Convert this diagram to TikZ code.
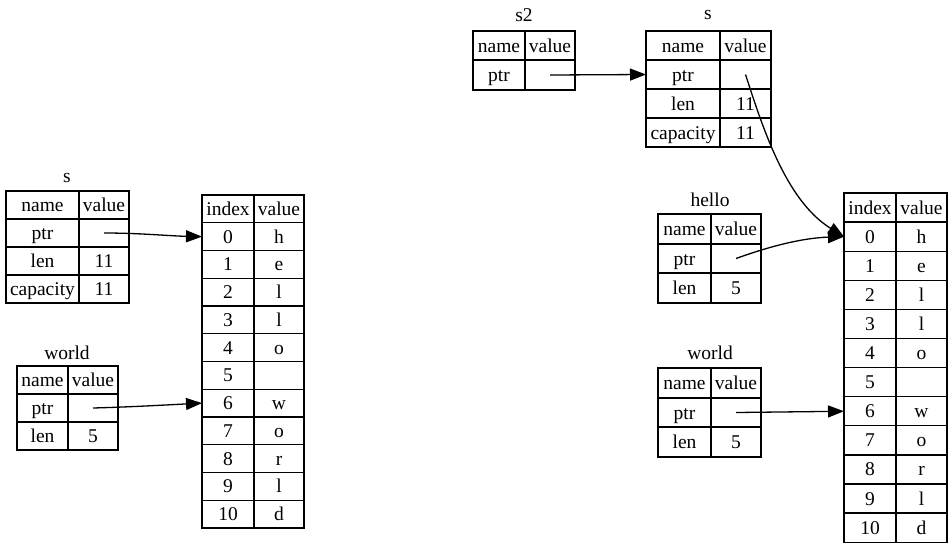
\documentclass[tikz,border=0pt]{standalone}
\usepackage{fontspec}
\setmainfont{Liberation Serif}
\usetikzlibrary{arrows.meta}
\tikzset{
  cell/.style={draw=black, line width=1.35pt, inner sep=0pt, outer sep=0pt, rectangle,
    text height=15pt, text depth=2pt},
  lbl/.style={inner sep=0pt},
  arr/.style={draw=black, line width=1.3pt, -{Triangle[length=16pt,width=12pt]}},
}
% \trow{prefix-row}{x1}{x2}{x3}{ytop}{ybot}{left}{right}
\newcommand\trow[8]{%
  \node[cell, minimum width={(#3-#2)*1pt}, minimum height={(#6-#5)*1pt}] (#1-n) at ({(#2+#3)/2},{(#5+#6)/2}) {#7};
  \node[cell, minimum width={(#4-#3)*1pt}, minimum height={(#6-#5)*1pt}] (#1-v) at ({(#3+#4)/2},{(#5+#6)/2}) {#8};
}
\begin{document}
\begin{tikzpicture}[x=1pt,y=-1pt,font=\fontsize{19.5pt}{22pt}\selectfont]
\useasboundingbox (0,0) rectangle (948,544);
\fill[white] (0,0) rectangle (948,544);

% ---------- left: s ----------
\node[lbl] (ls-label) at (67,178) {s};
\trow{ls-h}{6}{79}{129}{191}{219}{name}{value}
\trow{ls-ptr}{6}{79}{129}{219}{247}{ptr}{}
\trow{ls-len}{6}{79}{129}{247}{275}{len}{11}
\trow{ls-cap}{6}{79}{129}{275}{303}{capacity}{11}

% ---------- left: world ----------
\node[lbl] (lw-label) at (67,353) {world};
\trow{lw-h}{17}{68}{118}{366}{394}{name}{value}
\trow{lw-ptr}{17}{68}{118}{394}{422}{ptr}{}
\trow{lw-len}{17}{68}{118}{422}{450}{len}{5}

% ---------- left: array ----------
\trow{la-h}{202}{254}{304}{195}{222.75}{index}{value}
\foreach \i/\c in {0/h,1/e,2/l,3/l,4/o,5/{},6/w,7/o,8/r,9/l,10/d}{
  \pgfmathsetmacro\ya{195+27.75*(\i+1)}
  \pgfmathsetmacro\yb{195+27.75*(\i+2)}
  \trow{la-\i}{202}{254}{304}{\ya}{\yb}{\i}{\c}
}

% ---------- right: s2 ----------
\node[lbl] (rs2-label) at (524,15) {s2};
\trow{rs2-h}{473}{525}{575}{31}{60}{name}{value}
\trow{rs2-ptr}{473}{525}{575}{60}{90}{ptr}{}

% ---------- right: s ----------
\node[lbl] (rs-label) at (708,15) {s};
\trow{rs-h}{646}{720}{771}{31}{60}{name}{value}
\trow{rs-ptr}{646}{720}{771}{60}{89}{ptr}{}
\trow{rs-len}{646}{720}{771}{89}{118}{len}{11}
\trow{rs-cap}{646}{720}{771}{118}{147}{capacity}{11}

% ---------- right: hello ----------
\node[lbl] (rh-label) at (710,200) {hello};
\trow{rh-h}{658}{711}{761}{214}{244}{name}{value}
\trow{rh-ptr}{658}{711}{761}{244}{273}{ptr}{}
\trow{rh-len}{658}{711}{761}{273}{303}{len}{5}

% ---------- right: world ----------
\node[lbl] (rw-label) at (710,353) {world};
\trow{rw-h}{658}{711}{761}{368}{398}{name}{value}
\trow{rw-ptr}{658}{711}{761}{398}{427}{ptr}{}
\trow{rw-len}{658}{711}{761}{427}{457}{len}{5}

% ---------- right: array ----------
\trow{ra-h}{844}{896}{947}{193}{222.1}{index}{value}
\foreach \i/\c in {0/h,1/e,2/l,3/l,4/o,5/{},6/w,7/o,8/r,9/l,10/d}{
  \pgfmathsetmacro\ya{193+29.1*(\i+1)}
  \pgfmathsetmacro\yb{193+29.1*(\i+2)}
  \trow{ra-\i}{844}{896}{947}{\ya}{\yb}{\i}{\c}
}

% ---------- connectors ----------
\draw[arr] (ls-ptr-v.center) .. controls (140,233) and (170,236) .. (la-0-n.west);
\draw[arr] (lw-ptr-v.center) .. controls (130,407) and (165,405) .. (la-6-n.west);
\draw[arr] (rs2-ptr-v.center) -- (rs-ptr-n.west);
\draw[arr] (rs-ptr-v.center) .. controls (762,125) and (785,200) .. (ra-0-n.west);
\draw[arr] (rh-ptr-v.center) .. controls (765,248) and (800,238) .. (ra-0-n.west);
\draw[arr] (rw-ptr-v.center) -- (ra-6-n.west);
\end{tikzpicture}
\end{document}
